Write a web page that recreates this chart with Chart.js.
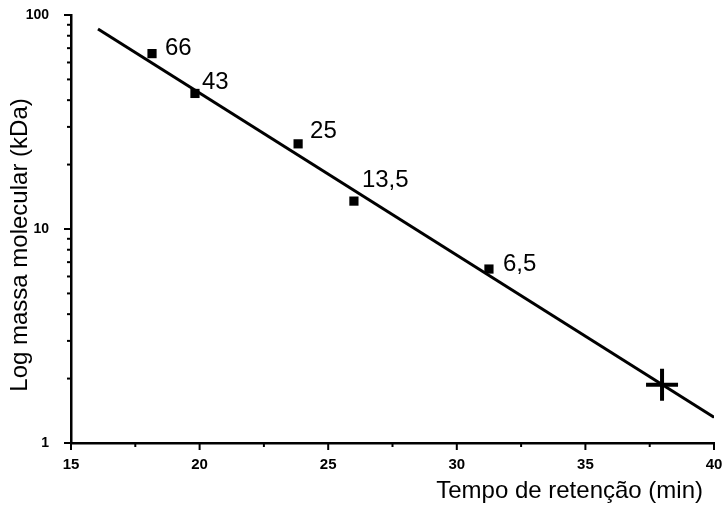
<!DOCTYPE html>
<html>
<head>
<meta charset="utf-8">
<script src="https://cdn.jsdelivr.net/npm/chart.js@4/dist/chart.umd.min.js"></script>
<style>
  html, body { margin: 0; padding: 0; background: #fff; overflow: hidden; }
  #wrap { width: 728px; height: 512px; position: relative; }
  canvas { display: block; }
</style>
</head>
<body>
<div id="wrap"><canvas id="c"></canvas></div>
<script>
// Calibration standards: retention time (min) vs molecular mass (kDa)
const retentionTimes = [18.15, 19.82, 23.83, 26.0, 31.25];
const massKDa = [66, 43, 25, 13.5, 6.5];
const massLabels = ['66', '43', '25', '13,5', '6,5'];

// Unknown sample
const sampleTime = [37.98];
const sampleMass = [1.87];

// Fitted calibration line (end points)
const fitTimes = [16.05, 40];
const fitMass = [86, 1.32];

// Axis ticks
const xTickValues = [15, 20, 25, 30, 35, 40];
const yTickLabels = ['1', '10', '100'];

// Label offsets (px) relative to each standard's marker
const labelOffsets = [[13, -5], [7, -11], [12, -12], [8, -21], [14, -5]];

const FONT = '"Liberation Sans", Arial, Helvetica, sans-serif';

const decorations = {
  id: 'decorations',
  afterDraw(chart) {
    const { ctx, scales: { x, y }, chartArea } = chart;
    ctx.save();
    ctx.strokeStyle = '#000';
    ctx.fillStyle = '#000';

    // x tick marks: majors every 5, minors halfway
    ctx.lineWidth = 2;
    for (let v = 15; v <= 40; v += 2.5) {
      const px = x.getPixelForValue(v);
      const len = (v % 5 === 0) ? 7 : 4;
      ctx.beginPath();
      ctx.moveTo(px, chartArea.bottom);
      ctx.lineTo(px, chartArea.bottom + len);
      ctx.stroke();
    }
    // y tick marks: decades and log minors
    for (let d = 1; d <= 100; d *= 10) {
      for (let m = 1; m <= 9; m++) {
        const v = d * m;
        if (v > 100) break;
        const py = y.getPixelForValue(v);
        const len = m === 1 ? 7 : 4;
        ctx.beginPath();
        ctx.moveTo(chartArea.left, py);
        ctx.lineTo(chartArea.left - len, py);
        ctx.stroke();
      }
    }

    // value labels beside the standards
    ctx.font = '24px ' + FONT;
    ctx.textBaseline = 'middle';
    ctx.textAlign = 'left';
    massLabels.forEach((t, i) => {
      const px = x.getPixelForValue(retentionTimes[i]);
      const py = y.getPixelForValue(massKDa[i]);
      ctx.fillText(t, px + labelOffsets[i][0], py + labelOffsets[i][1]);
    });

    // axis titles
    ctx.font = '24px ' + FONT;
    ctx.textAlign = 'right';
    ctx.textBaseline = 'alphabetic';
    ctx.fillText('Tempo de retenção (min)', 703, 498);

    ctx.translate(27, 245);
    ctx.rotate(-Math.PI / 2);
    ctx.textAlign = 'center';
    ctx.fillText('Log massa molecular (kDa)', 0, 0);
    ctx.restore();
  }
};

new Chart(document.getElementById('c'), {
  type: 'scatter',
  data: {
    datasets: [
      {
        label: 'ajuste',
        type: 'line',
        data: fitTimes.map((t, i) => ({ x: t, y: fitMass[i] })),
        borderColor: '#000',
        borderWidth: 3,
        pointRadius: 0,
        fill: false,
        order: 2
      },
      {
        label: 'padrões',
        data: retentionTimes.map((t, i) => ({ x: t, y: massKDa[i] })),
        pointStyle: 'rect',
        pointRadius: 6.5,
        backgroundColor: '#000',
        borderColor: '#000',
        borderWidth: 0,
        order: 1
      },
      {
        label: 'amostra',
        data: sampleTime.map((t, i) => ({ x: t, y: sampleMass[i] })),
        pointStyle: 'cross',
        pointRadius: 16,
        borderColor: '#000',
        borderWidth: 4,
        order: 0
      }
    ]
  },
  options: {
    responsive: true,
    maintainAspectRatio: false,
    animation: false,
    layout: { autoPadding: false, padding: { left: 0, right: 14, top: 15, bottom: 0 } },
    plugins: {
      legend: { display: false },
      tooltip: { enabled: false }
    },
    scales: {
      x: {
        type: 'linear',
        min: 15,
        max: 40,
        afterFit(s) { s.height = 69; s.paddingLeft = 0; s.paddingRight = 0; },
        afterBuildTicks(s) { s.ticks = xTickValues.map(v => ({ value: v })); },
        grid: { display: false },
        border: { display: true, color: '#000', width: 2.5 },
        ticks: {
          color: '#000',
          padding: 5,
          maxRotation: 0,
          autoSkip: false,
          font: { family: FONT, size: 15, weight: 'bold' }
        }
      },
      y: {
        type: 'logarithmic',
        min: 1,
        max: 100,
        afterFit(s) { s.width = 71; s.paddingTop = 0; s.paddingBottom = 0; },
        afterBuildTicks(s) { s.ticks = yTickLabels.map(v => ({ value: Number(v) })); },
        grid: { display: false },
        border: { display: true, color: '#000', width: 2.5 },
        ticks: {
          color: '#000',
          padding: 14,
          autoSkip: false,
          font: { family: FONT, size: 14, weight: 'bold' },
          callback: (v) => String(v)
        }
      }
    }
  },
  plugins: [decorations]
});
</script>
</body>
</html>
